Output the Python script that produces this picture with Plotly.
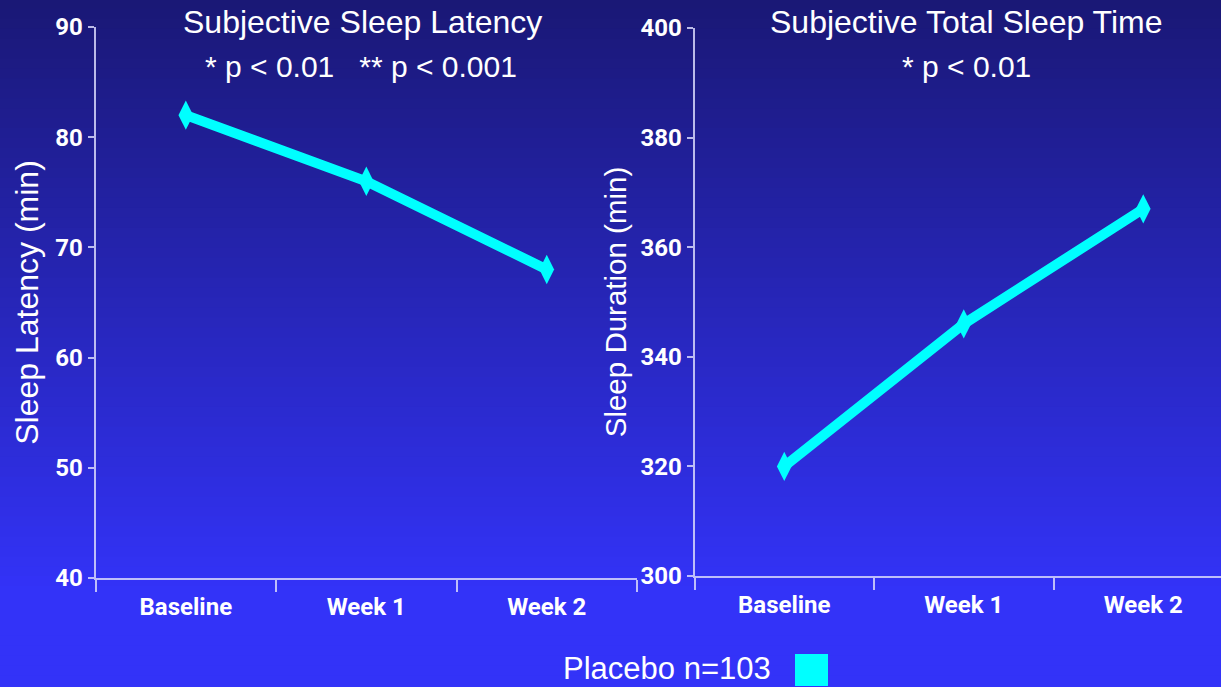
import plotly.graph_objects as go

categories = ["Baseline", "Week 1", "Week 2"]
latency_min = [82, 76, 68]
duration_min = [320, 346, 367]
latency_ticks = [40, 50, 60, 70, 80, 90]
duration_ticks = [300, 320, 340, 360, 380, 400]

W, H = 1221, 687
CYAN = "#00FFFF"
AXC = "rgba(215,215,250,0.85)"
TICKFONT = "Liberation Sans Narrow, Roboto, sans-serif"
TEXTFONT = "Liberation Sans, Arial, sans-serif"

fig = go.Figure()

# background gradient strips (paper decoration)
n = 69
top = (26, 24, 118)
bot = (51, 51, 248)
for i in range(n):
    t = min(1.0, (i / (n - 1)) * 1.15)
    c = tuple(int(round(top[k] + (bot[k] - top[k]) * t)) for k in range(3))
    fig.add_shape(type="rect", xref="paper", yref="paper",
                  x0=0, x1=1, y0=1 - (i + 1) / n, y1=min(1, 1 - i / n + 0.002),
                  fillcolor="rgb(%d,%d,%d)" % c, line=dict(width=0), layer="below")

fig.add_trace(go.Scatter(x=categories, y=latency_min, mode="lines+markers", xaxis="x", yaxis="y",
                         line=dict(color=CYAN, width=10),
                         marker=dict(symbol="diamond-tall", size=21, color=CYAN, line=dict(width=0)),
                         showlegend=False, hoverinfo="skip"))
fig.add_trace(go.Scatter(x=categories, y=duration_min, mode="lines+markers", xaxis="x2", yaxis="y2",
                         line=dict(color=CYAN, width=10),
                         marker=dict(symbol="diamond-tall", size=21, color=CYAN, line=dict(width=0)),
                         showlegend=False, hoverinfo="skip"))

tickfont = dict(family=TICKFONT, size=24, color="white", weight="bold")

def xaxis(dom, rng, anchor):
    return dict(domain=dom, range=rng, anchor=anchor, type="category",
                tickson="boundaries", ticks="outside", ticklen=12, tickwidth=2, tickcolor=AXC,
                tickfont=tickfont, ticklabelstandoff=6, showgrid=False, zeroline=False,
                showline=True, linecolor=AXC, linewidth=2, automargin=False,
                fixedrange=True)

def yaxis(dom, rng, tv, anchor, title, tsize, standoff):
    return dict(domain=dom, range=rng, anchor=anchor,
                tickmode="array", tickvals=tv, ticks="outside", ticklen=6, tickwidth=2,
                tickcolor=AXC, tickfont=tickfont, showgrid=False, zeroline=False,
                showline=True, linecolor=AXC, linewidth=2, automargin=False,
                title=dict(text=title, font=dict(family=TEXTFONT, size=tsize, color="white"),
                           standoff=standoff),
                fixedrange=True)

left_dom = [95.6 / W, 637 / W]
right_dom = [694.5 / W, 1.0]
right_end = -0.5 + (W - 694.5) / 179.5

fig.update_layout(
    width=W, height=H,
    margin=dict(l=0, r=0, t=0, b=0),
    paper_bgcolor="rgb(51,51,248)", plot_bgcolor="rgba(0,0,0,0)",
    showlegend=False,
    xaxis=xaxis(left_dom, [-0.5, 2.5], "y"),
    yaxis=yaxis([1 - 578 / H, 1 - 27 / H], [40, 90], latency_ticks, "x",
                "Sleep Latency (min)", 32, 7),
    xaxis2=xaxis(right_dom, [-0.5, right_end], "y2"),
    yaxis2=yaxis([1 - 576 / H, 1 - 28 / H], [300, 400], duration_ticks, "x2",
                 "Sleep Duration (min)", 29.5, 5),
    annotations=[
        dict(text="Subjective Sleep Latency", xref="paper", yref="paper",
             x=362 / W, y=1 - 22 / H, xanchor="center", yanchor="middle", showarrow=False,
             font=dict(family=TEXTFONT, size=32, color="white")),
        dict(text="* p < 0.01   ** p < 0.001", xref="paper", yref="paper",
             x=361 / W, y=1 - 66 / H, xanchor="center", yanchor="middle", showarrow=False,
             font=dict(family=TEXTFONT, size=30, color="white")),
        dict(text="Subjective Total Sleep Time", xref="paper", yref="paper",
             x=967 / W, y=1 - 22 / H, xanchor="center", yanchor="middle", showarrow=False,
             font=dict(family=TEXTFONT, size=32, color="white")),
        dict(text="* p < 0.01", xref="paper", yref="paper",
             x=966 / W, y=1 - 66 / H, xanchor="center", yanchor="middle", showarrow=False,
             font=dict(family=TEXTFONT, size=30, color="white")),
        dict(text="Placebo n=103", xref="paper", yref="paper",
             x=561 / W, y=1 - 668 / H, xanchor="left", yanchor="middle", showarrow=False,
             font=dict(family=TEXTFONT, size=31, color="white")),
    ],
)
# legend swatch
fig.add_shape(type="rect", xref="paper", yref="paper",
              x0=795 / W, x1=828 / W, y0=1 - 686 / H, y1=1 - 654 / H,
              fillcolor=CYAN, line=dict(width=0))

fig.write_html("out.html")
